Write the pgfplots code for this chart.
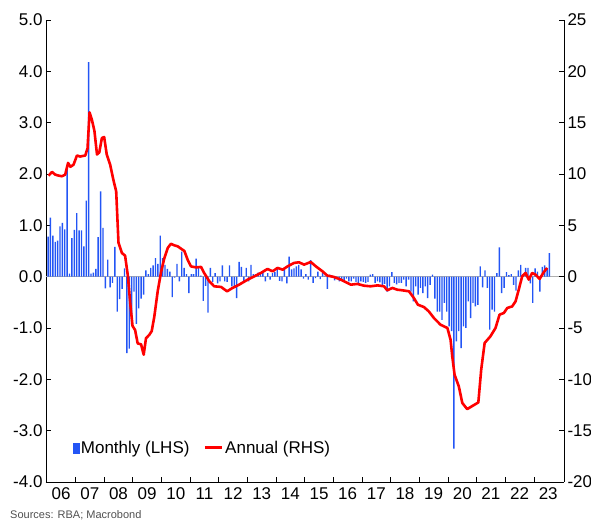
\documentclass[border=0pt]{standalone}
\usepackage{fontspec}
\setmainfont{Liberation Sans}
\usepackage{pgfplots}
\usepackage{pgfplotstable}
\pgfplotsset{compat=1.18}
\definecolor{barblue}{RGB}{35,85,245}
\definecolor{linered}{RGB}{255,0,0}
\definecolor{zerogrey}{RGB}{175,175,175}
\definecolor{srcgrey}{RGB}{80,80,80}

% monthly change (LHS), m = months since Jan 2006
\pgfplotstableread{
m v
0 0.78
1 1.15
2 0.80
3 0.68
4 0.70
5 0.98
6 1.05
7 0.92
8 2.12
9 0.06
10 0.75
11 0.91
12 1.24
13 0.90
14 0.90
15 0.59
16 1.48
17 4.18
18 0.06
19 0.08
20 0.15
21 0.77
22 1.66
23 0.95
24 -0.23
25 0.33
26 -0.21
27 -0.12
28 0.58
29 -0.68
30 -0.44
31 -0.24
32 0.16
33 -1.49
34 -1.40
35 -0.94
36 -0.29
37 -0.92
38 -0.62
39 -0.43
40 -0.35
41 0.12
42 0.05
43 0.17
44 0.22
45 0.36
46 0.25
47 0.80
48 0.36
49 0.23
50 0.15
51 0.10
52 -0.40
53 -0.02
54 0.25
55 -0.09
56 0.49
57 0.17
58 0.05
59 -0.32
60 0.05
61 0.05
62 0.35
63 0.20
64 0.02
65 -0.47
66 -0.18
67 -0.70
68 0.17
69 -0.10
70 0.07
71 -0.13
72 -0.09
73 0.22
74 -0.09
75 -0.10
76 0.22
77 -0.19
78 -0.22
79 -0.42
80 0.29
81 0.19
82 -0.12
83 0.17
84 -0.09
85 0.23
86 0.05
87 0.05
88 0.08
89 0.07
90 0.10
91 -0.09
92 0.07
93 -0.06
94 0.07
95 0.09
96 0.16
97 -0.08
98 -0.09
99 0.17
100 -0.13
101 0.39
102 0.14
103 0.16
104 0.20
105 0.23
106 0.14
107 -0.04
108 0.05
109 -0.06
110 0.32
111 -0.12
112 -0.03
113 0.10
114 -0.05
115 0.08
116 0.02
117 -0.24
118 0.04
119 0.02
120 -0.07
121 -0.02
122 -0.09
123 -0.07
124 -0.09
125 -0.04
126 -0.09
127 -0.09
128 -0.04
129 -0.10
130 -0.12
131 -0.09
132 -0.10
133 -0.12
134 -0.10
135 0.04
136 0.05
137 -0.12
138 -0.09
139 -0.11
140 -0.16
141 -0.14
142 -0.29
143 -0.19
144 0.09
145 -0.12
146 -0.15
147 -0.12
148 -0.12
149 -0.06
150 -0.19
151 -0.06
152 -0.29
153 -0.48
154 -0.19
155 -0.35
156 -0.22
157 -0.32
158 -0.19
159 -0.42
160 -0.16
161 0.04
162 -0.43
163 -0.68
164 -0.68
165 -0.84
166 -0.51
167 -0.68
168 -0.97
169 -1.06
170 -3.35
171 -1.26
172 -1.06
173 -1.39
174 -0.97
175 -1.00
176 -0.48
177 -0.81
178 -0.51
179 -0.58
180 -0.55
181 0.20
182 -0.21
183 0.12
184 -0.22
185 -1.03
186 -0.64
187 -0.68
188 0.07
189 0.57
190 -0.32
191 -0.22
192 0.09
193 0.03
194 0.05
195 -0.16
196 -0.27
197 0.12
198 0.23
199 0.05
200 0.17
201 0.17
202 -0.13
203 -0.51
204 0.16
205 0.10
206 -0.29
207 0.19
208 0.22
209 0.17
210 0.46
}\monthly

% annual change (RHS), decimal year
\pgfplotstableread{
yr v
2006.06 9.84
2006.18 10.2
2006.29 9.94
2006.41 9.84
2006.53 9.78
2006.64 9.94
2006.74 11.08
2006.82 10.7
2006.93 10.9
2007.05 11.8
2007.16 11.7
2007.34 11.8
2007.42 12.5
2007.49 16.0
2007.57 15.3
2007.66 14.2
2007.75 11.9
2007.83 12.1
2007.92 13.5
2008.00 13.6
2008.09 11.9
2008.21 10.9
2008.32 9.45
2008.42 8.3
2008.50 3.3
2008.62 2.3
2008.73 2.05
2008.83 0.03
2008.91 -2.6
2008.99 -4.8
2009.08 -5.2
2009.17 -6.5
2009.29 -6.6
2009.38 -7.6
2009.46 -6.0
2009.58 -5.65
2009.66 -5.3
2009.75 -3.9
2009.87 -1.4
2009.99 0.5
2010.10 1.8
2010.22 2.8
2010.33 3.2
2010.45 3.05
2010.57 2.95
2010.68 2.73
2010.80 2.5
2010.92 1.6
2011.03 1.0
2011.21 0.9
2011.38 0.95
2011.49 0.36
2011.67 -0.45
2011.84 -0.94
2012.08 -1.0
2012.29 -1.43
2012.48 -1.1
2012.71 -0.78
2013.01 -0.29
2013.24 0.03
2013.47 0.36
2013.70 0.75
2013.88 0.52
2014.05 0.85
2014.23 0.68
2014.40 1.0
2014.63 1.34
2014.80 1.4
2014.98 1.17
2015.21 1.43
2015.39 1.0
2015.62 0.52
2015.79 0.1
2016.02 -0.03
2016.26 -0.29
2016.49 -0.61
2016.61 -0.78
2016.84 -0.71
2017.07 -0.88
2017.30 -0.94
2017.54 -0.85
2017.77 -0.94
2017.88 -1.33
2018.06 -1.1
2018.23 -1.27
2018.41 -1.33
2018.64 -1.43
2018.81 -2.08
2018.95 -2.73
2019.16 -2.96
2019.33 -3.38
2019.51 -4.03
2019.74 -4.68
2019.98 -5.0
2020.09 -6.14
2020.15 -7.77
2020.23 -9.55
2020.38 -10.7
2020.50 -12.3
2020.67 -12.9
2020.85 -12.6
2021.06 -12.25
2021.16 -9.06
2021.28 -6.46
2021.48 -5.82
2021.66 -5.0
2021.80 -3.7
2021.95 -3.54
2022.07 -3.05
2022.24 -2.9
2022.36 -2.4
2022.47 -1.27
2022.59 0.03
2022.71 0.36
2022.82 -0.29
2022.94 0.36
2023.06 0.19
2023.20 -0.22
2023.34 0.42
2023.46 0.85
}\annual

\begin{document}
\begin{tikzpicture}[font=\fontsize{17}{20}\selectfont]
\begin{axis}[
  name=main,
  scale only axis, width=518pt, height=462pt,
  xmin=-0.86, xmax=216.1,
  ymin=-4, ymax=5,
  axis x line*=bottom, axis y line*=left,
  axis line style={black, line width=0.8pt, -},
  tick align=inside, major tick length=5pt,
  tick style={black, line width=0.8pt},
  ytick={-4,-3,...,5},
  yticklabel style={/pgf/number format/.cd, fixed, fixed zerofill, precision=1, assume math mode=true},
  xtick={11.5,23.5,...,203.5}, xticklabels={},
  extra x ticks={5.5,17.5,...,209.5},
  extra x tick labels={06,07,08,09,10,11,12,13,14,15,16,17,18,19,20,21,22,23},
  extra x tick style={major tick length=0pt, tick label style={yshift=-2pt}},
  clip=false,
]
\addplot[zerogrey, line width=1.5pt, forget plot] coordinates {(-0.86,0) (216.1,0)};
\addplot[ybar, bar width=1.4pt, fill=barblue, draw=none] table[x=m, y=v] {\monthly};
\end{axis}
\begin{axis}[
  scale only axis, width=518pt, height=462pt,
  xmin=2005.97, xmax=2024.05,
  ymin=-20, ymax=25,
  axis y line*=right, axis x line=none,
  axis line style={black, line width=0.8pt, -},
  tick align=inside, major tick length=5pt,
  tick style={black, line width=0.8pt},
  ytick={-20,-15,...,25},
  yticklabel style={/pgf/number format/assume math mode=true},
  legend style={at={(axis description cs:0.045,0.05)}, anchor=south west, draw=none, fill=none,
    legend columns=2, font=\fontsize{17}{20}\selectfont,
    /tikz/every even column/.append style={column sep=12pt}},
  legend cell align=left,
]
\addlegendimage{legend image code/.code={\fill[barblue] (0.5pt,-5pt) rectangle (6.5pt,5pt);}}
\addlegendentry{Monthly (LHS)}
\addplot[linered, line width=2.6pt, line join=round] table[x=yr, y=v] {\annual};
\addlegendentry{Annual (RHS)}
\end{axis}
\node[anchor=base west, font=\fontsize{11}{13}\selectfont, text=srcgrey, inner sep=0pt] at ([shift={(-36pt,-37pt)}]main.south west) {Sources: RBA; Macrobond};
\pgfresetboundingbox
\path[use as bounding box] ([shift={(-46pt,-45pt)}]main.south west) rectangle ([shift={(27pt,20pt)}]main.north east);
\end{tikzpicture}
\end{document}
